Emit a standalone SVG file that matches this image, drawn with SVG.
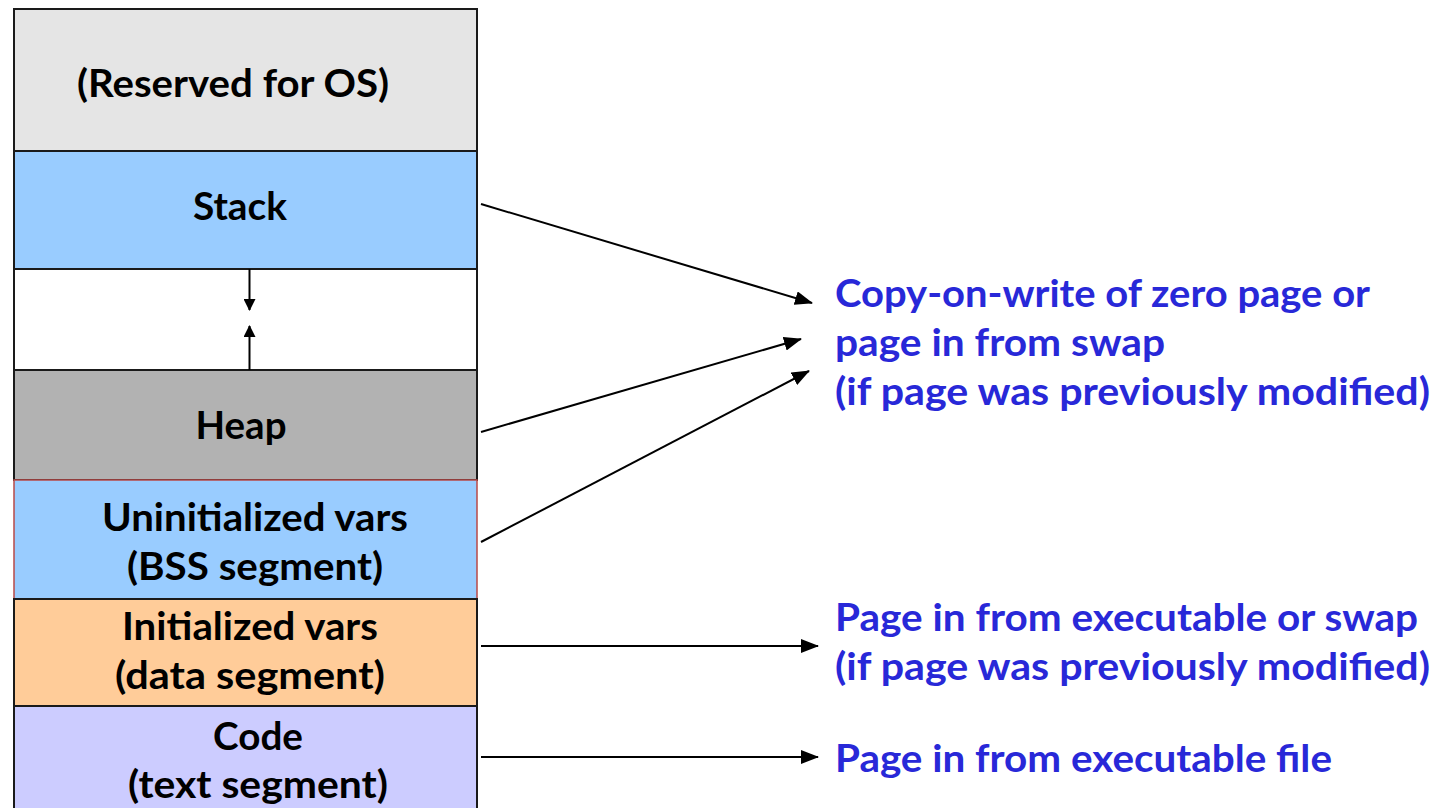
<svg xmlns="http://www.w3.org/2000/svg" width="1434" height="808" viewBox="0 0 1434 808">
<style>
.seg{stroke:#1a1a1a;stroke-width:2}
.lbl{font-family:Lato,"Open Sans","Liberation Sans",sans-serif;font-weight:bold;font-size:39px;fill:#000;text-anchor:middle}
.note{font-family:Lato,"Open Sans","Liberation Sans",sans-serif;font-weight:bold;font-size:38px;fill:#2828d8}
.conn{stroke:#000;stroke-width:2;fill:none}
</style>
<defs>
<marker id="ah" markerUnits="userSpaceOnUse" markerWidth="18" markerHeight="14" refX="17" refY="7" orient="auto">
<path d="M0,0 L18,7 L0,14 Z" fill="#000"/>
</marker>
<marker id="ahs" markerUnits="userSpaceOnUse" markerWidth="12" markerHeight="12" refX="11" refY="6" orient="auto">
<path d="M0,0 L12,6 L0,12 Z" fill="#000"/>
</marker>
</defs>
<rect x="0" y="0" width="1434" height="808" fill="#fff"/>
<g id="reserved"><rect class="seg" x="14" y="9" width="463" height="142" fill="#e5e5e5"/><text class="lbl" x="233" y="97" textLength="312" lengthAdjust="spacingAndGlyphs">(Reserved for OS)</text></g>
<g id="stack"><rect class="seg" x="14" y="151" width="463" height="118" fill="#99ccff"/><text class="lbl" x="240" y="220" textLength="94" lengthAdjust="spacingAndGlyphs">Stack</text></g>
<g id="free"><rect class="seg" x="14" y="269" width="463" height="101" fill="#fff"/></g>
<g id="heap"><rect class="seg" x="14" y="370" width="463" height="110" fill="#b2b2b2"/><text class="lbl" x="241" y="439" textLength="91" lengthAdjust="spacingAndGlyphs">Heap</text></g>
<g id="bss"><rect x="14" y="480" width="463" height="119" fill="#99ccff" stroke="#b84a48" stroke-width="1.5"/><text class="lbl" x="255" y="531" textLength="306" lengthAdjust="spacingAndGlyphs">Uninitialized vars</text><text class="lbl" x="255" y="580" textLength="256" lengthAdjust="spacingAndGlyphs">(BSS segment)</text></g>
<g id="data"><rect class="seg" x="14" y="599" width="463" height="107" fill="#ffcc99"/><text class="lbl" x="250" y="640" textLength="256" lengthAdjust="spacingAndGlyphs">Initialized vars</text><text class="lbl" x="250" y="689" textLength="270" lengthAdjust="spacingAndGlyphs">(data segment)</text></g>
<g id="code"><rect class="seg" x="14" y="706" width="463" height="110" fill="#ccccff"/><text class="lbl" x="258" y="750" textLength="90" lengthAdjust="spacingAndGlyphs">Code</text><text class="lbl" x="258" y="798" textLength="260" lengthAdjust="spacingAndGlyphs">(text segment)</text></g>
<g id="note-zero"><text class="note" x="835" y="307" textLength="535" lengthAdjust="spacingAndGlyphs">Copy-on-write of zero page or</text><text class="note" x="835" y="356" textLength="330" lengthAdjust="spacingAndGlyphs">page in from swap</text><text class="note" x="835" y="405" textLength="595" lengthAdjust="spacingAndGlyphs">(if page was previously modified)</text></g>
<g id="note-exec"><text class="note" x="835" y="631" textLength="583" lengthAdjust="spacingAndGlyphs">Page in from executable or swap</text><text class="note" x="835" y="680" textLength="595" lengthAdjust="spacingAndGlyphs">(if page was previously modified)</text></g>
<g id="note-file"><text class="note" x="835" y="772" textLength="497" lengthAdjust="spacingAndGlyphs">Page in from executable file</text></g>
<g id="connectors">
<line class="conn" x1="249.5" y1="269" x2="249.5" y2="310" marker-end="url(#ahs)"/>
<line class="conn" x1="249.5" y1="370" x2="249.5" y2="326" marker-end="url(#ahs)"/>
<line class="conn" x1="481" y1="204" x2="812" y2="303" marker-end="url(#ah)"/>
<line class="conn" x1="481" y1="432" x2="801" y2="339" marker-end="url(#ah)"/>
<line class="conn" x1="481" y1="542" x2="809" y2="371" marker-end="url(#ah)"/>
<line class="conn" x1="481" y1="646" x2="818" y2="646" marker-end="url(#ah)"/>
<line class="conn" x1="481" y1="757" x2="818" y2="757" marker-end="url(#ah)"/>
</g>
</svg>
